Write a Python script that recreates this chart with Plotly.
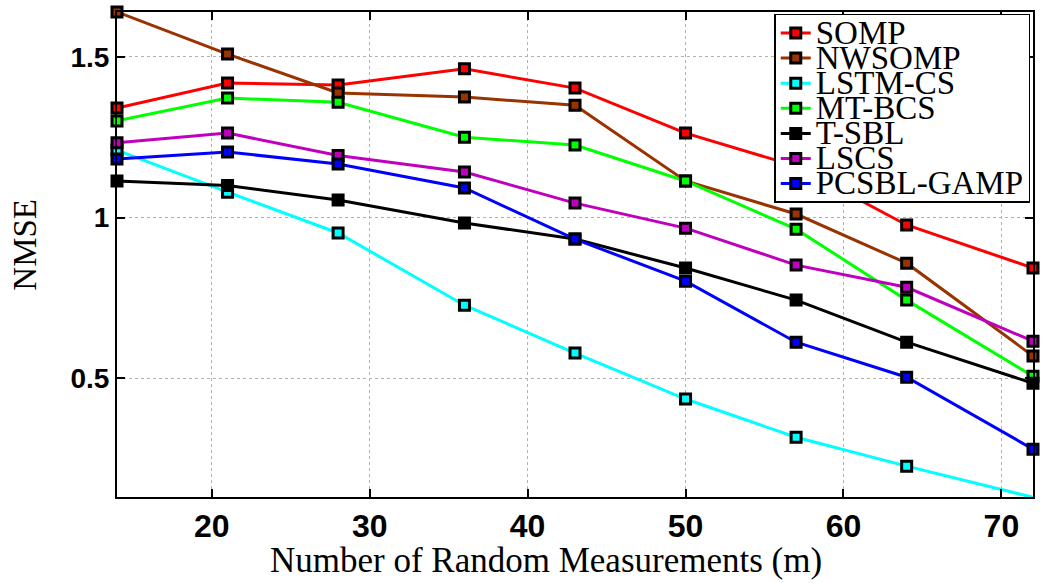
import plotly.graph_objects as go

m_values = [14, 21, 28, 36, 43, 50, 57, 64, 72]

series_names = ["SOMP", "NWSOMP", "LSTM-CS", "MT-BCS", "T-SBL", "LSCS", "PCSBL-GAMP"]
series_colors = ["#FF0000", "#993300", "#00FFFF", "#00FF00", "#000000", "#BF00BF", "#0000FF"]

somp = [1.341, 1.419, 1.413, 1.463, 1.403, 1.263, 1.160, 0.977, 0.843]
nwsomp = [1.640, 1.509, 1.388, 1.375, 1.350, 1.114, 1.011, 0.858, 0.569]
lstm_cs = [1.210, 1.079, 0.952, 0.727, 0.578, 0.435, 0.316, 0.226, 0.129]
mt_bcs = [1.301, 1.372, 1.359, 1.250, 1.226, 1.114, 0.964, 0.743, 0.506]
t_sbl = [1.114, 1.100, 1.055, 0.983, 0.933, 0.843, 0.743, 0.612, 0.484]
lscs = [1.233, 1.263, 1.193, 1.142, 1.045, 0.967, 0.852, 0.783, 0.615]
pcsbl_gamp = [1.182, 1.204, 1.167, 1.092, 0.933, 0.802, 0.612, 0.503, 0.279]

series_values = [somp, nwsomp, lstm_cs, mt_bcs, t_sbl, lscs, pcsbl_gamp]

x_tick_vals = [20, 30, 40, 50, 60, 70]
y_tick_vals = [0.5, 1.0, 1.5]
y_tick_text = ["0.5", "1", "1.5"]

x_title = "Number of Random Measurements (m)"
y_title = "NMSE"

fig = go.Figure()
for name, color, vals in zip(series_names, series_colors, series_values):
    fig.add_trace(go.Scatter(
        x=m_values, y=vals, mode="lines+markers",
        name=f'<span style="font-size:33px;baseline-shift:-4px">{name}</span>',
        line=dict(color=color, width=3),
        marker=dict(symbol="square", size=10, color=color,
                    line=dict(color="black", width=3)),
        cliponaxis=False,
    ))

serif = "Liberation Serif"
sans = "Liberation Sans"

fig.update_layout(
    width=1041, height=583,
    margin=dict(l=117, r=6, t=12, b=86),
    paper_bgcolor="white", plot_bgcolor="white",
    showlegend=True,
    legend=dict(
        x=0.997, xanchor="right", y=0.996, yanchor="top",
        bgcolor="white", bordercolor="black", borderwidth=1.5,
        font=dict(family=serif, size=17, color="black"),
        itemwidth=30, tracegroupgap=0,
    ),
    annotations=[
        dict(text=x_title, xref="paper", yref="paper", x=0.4684, y=-0.1299,
             xanchor="center", yanchor="middle", showarrow=False,
             font=dict(family=serif, size=35, color="black")),
        dict(text=y_title, xref="paper", yref="paper", x=-0.1008, y=0.5196,
             xanchor="center", yanchor="middle", showarrow=False, textangle=-90,
             font=dict(family=serif, size=33, color="black")),
    ],
)

fig.update_xaxes(
    range=[14, 72], tickvals=x_tick_vals,
    showline=True, linecolor="black", linewidth=2, mirror="ticks",
    ticks="inside", ticklen=8, tickwidth=1.5, tickcolor="black",
    showgrid=True, gridcolor="#b0b0b0", griddash="dot", gridwidth=1,
    zeroline=False,
    tickfont=dict(family=sans, size=32, color="black", weight="bold"),
)
fig.update_yaxes(
    range=[0.13, 1.64], tickvals=y_tick_vals, ticktext=y_tick_text,
    showline=True, linecolor="black", linewidth=2, mirror="ticks",
    ticks="inside", ticklen=8, tickwidth=1.5, tickcolor="black",
    showgrid=True, gridcolor="#b0b0b0", griddash="dot", gridwidth=1,
    zeroline=False,
    tickfont=dict(family=sans, size=28, color="black", weight="bold"),
)

fig.write_html("out.html")
